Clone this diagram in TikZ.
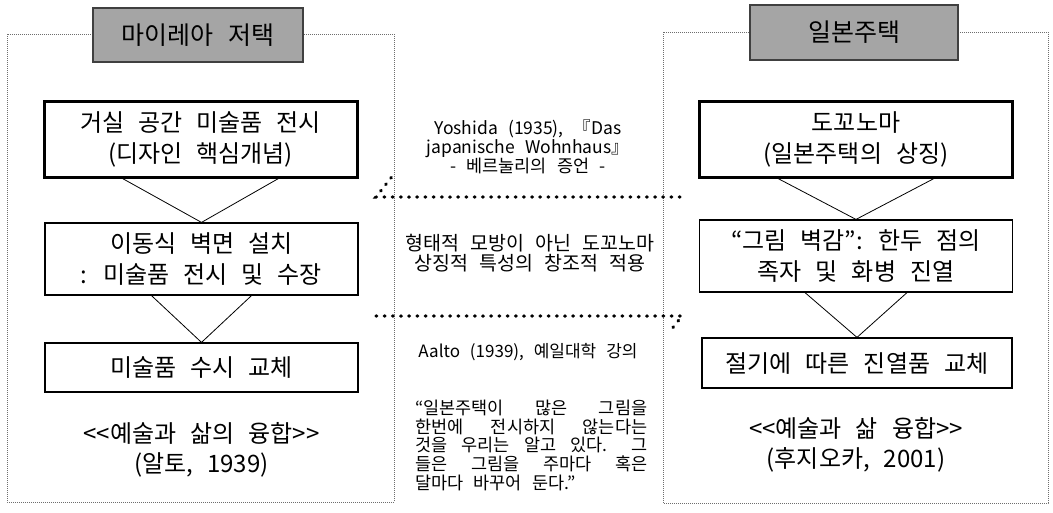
\documentclass[tikz,border=0pt]{standalone}
\usepackage{fontspec}
\setmainfont{Noto Sans CJK KR}[WordSpace=2.6]
\definecolor{ttlgray}{RGB}{165,165,165}
\definecolor{frmgray}{RGB}{110,110,110}
\tikzset{
  frm/.style={draw=frmgray, line width=0.8pt, dash pattern=on 0.9pt off 1.1pt},
  ttlbox/.style={draw=black!75, line width=1.8pt, fill=ttlgray, inner sep=0pt,
    font=\fontsize{25}{28}\selectfont},
  flowbox/.style={draw=black, line width=1.2pt, inner sep=0pt, align=center,
    minimum width=313pt, font=\fontsize{24}{31}\selectfont},
  keybox/.style={flowbox, line width=3pt},
  lbl/.style={align=center, inner sep=0pt, font=\fontsize{24}{30}\selectfont},
  midtext/.style={align=center, inner sep=0pt, font=\fontsize{17.5}{18.5}\selectfont},
  tri/.style={draw=black, line width=0.8pt},
  dotarrow/.style={draw=black, line width=3.2pt, line cap=round, dash pattern=on 0.8pt off 7.4pt}
}
\def\LL{<\kern0pt<}
\def\RR{>\kern0pt>}
\begin{document}
\begin{tikzpicture}[x=1pt,y=-1pt]
\useasboundingbox (0,0) rectangle (1053,512);
% frames
\draw[frm] (7,34) rectangle (394,502);
\draw[frm] (663,32) rectangle (1048,503);
% titles
\node[ttlbox, minimum width=210pt, minimum height=54pt] (TL) at (198,35) {마이레아 저택};
\node[ttlbox, minimum width=208pt, minimum height=55pt] (TR) at (854,32.5) {일본주택};
% left column
\node[keybox, minimum height=76pt] (L1) at (200.5,139) {거실 공간 미술품 전시\\(디자인 핵심개념)};
\node[flowbox, minimum height=72pt] (L2) at (201.5,259) {이동식 벽면 설치\\: 미술품 전시 및 수장};
\node[flowbox, minimum height=49pt] (L3) at (201.5,367.5) {미술품 수시 교체};
\node[lbl] (LB) at (201.5,450) {\LL 예술과 삶의 융합\RR\\(알토, 1939)};
% right column
\node[keybox, minimum height=76pt] (R1) at (856,139) {도꼬노마\\(일본주택의 상징)};
\node[flowbox, minimum height=72pt] (R2) at (856,256) {“그림 벽감”: 한두 점의\\족자 및 화병 진열};
\node[flowbox, minimum height=50pt, minimum width=310pt] (R3) at (857,363) {절기에 따른 진열품 교체};
\node[lbl] (RB) at (856,445) {\LL 예술과 삶 융합\RR\\(후지오카, 2001)};
% triangles
\draw[tri] ([xshift=-78]L1.south) -- (L2.north) -- ([xshift=78]L1.south);
\draw[tri] ([xshift=-50]L2.south) -- (L3.north) -- ([xshift=50]L2.south);
\draw[tri] ([xshift=-78]R1.south) -- (R2.north) -- ([xshift=78]R1.south);
\draw[tri] ([xshift=-51]R2.south) -- (R3.north) -- ([xshift=51]R2.south);
% middle texts
\node[midtext] (M1) at (528,147) {Yoshida (1935), 『Das\\japanische Wohnhaus』\\- 베르눌리의 증언 -};
\node[midtext, font=\fontsize{19.5}{20.5}\selectfont] (M2) at (530,253) {형태적 모방이 아닌 도꼬노마\\상징적 특성의 창조적 적용};
\node[midtext, font=\fontsize{17}{18.5}\selectfont] (M3) at (528,352) {Aalto (1939), 예일대학 강의};
\node[midtext, align=left, anchor=north west, font=\fontsize{17.5}{18.6}\selectfont] (M4) at (415,400) {%
\makebox[232pt][s]{“일본주택이 많은 그림을}\\
\makebox[232pt][s]{한번에 전시하지 않는다는}\\
\makebox[232pt][s]{것을 우리는 알고 있다. 그}\\
\makebox[232pt][s]{들은 그림을 주마다 혹은}\\
달마다 바꾸어 둔다.”};
% dotted arrows
\coordinate (A1s) at (680,197);
\coordinate (A1e) at (376,197);
\draw[dotarrow] (A1s) -- (A1e) -- ++(18,-23);
\coordinate (A2s) at (376,316);
\coordinate (A2e) at (682,316);
\draw[dotarrow] (A2s) -- (A2e) -- ++(-11,14);
\end{tikzpicture}
\end{document}
